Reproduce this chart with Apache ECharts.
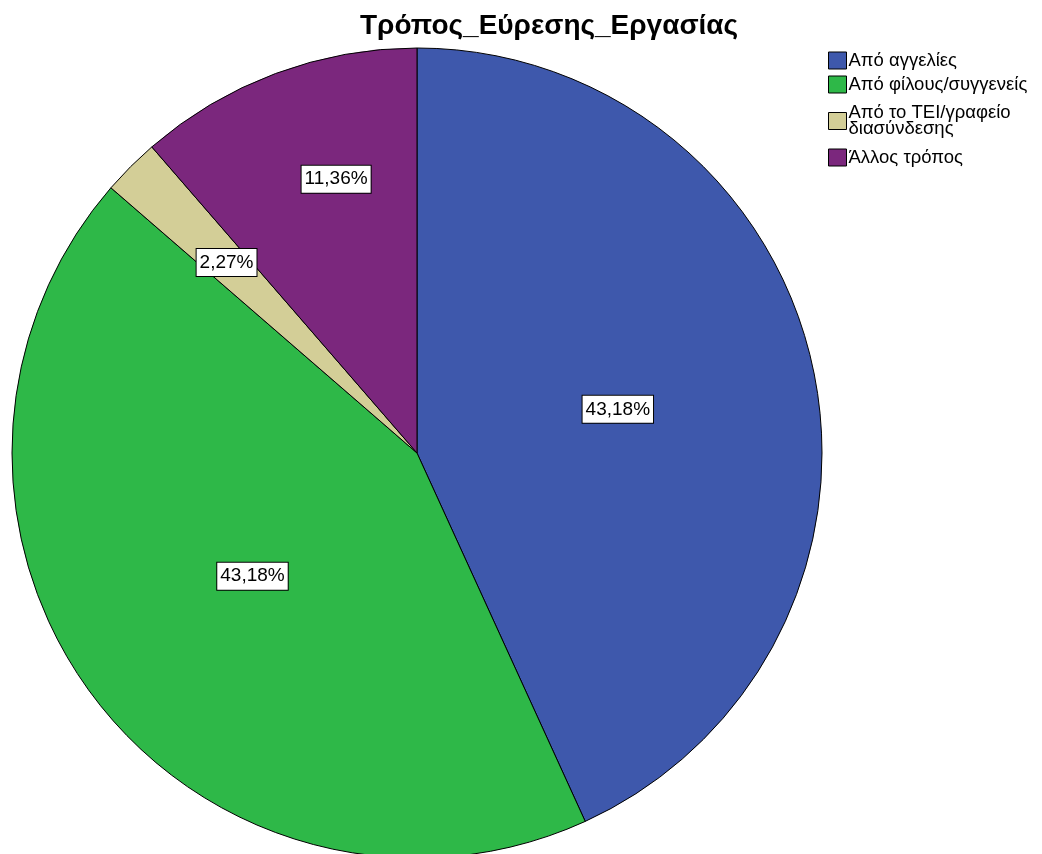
<!DOCTYPE html>
<html>
<head>
<meta charset="utf-8">
<script src="https://cdn.jsdelivr.net/npm/echarts@6/dist/echarts.min.js"></script>
<style>html,body{margin:0;padding:0;background:#fff;}#chart{width:1042px;height:854px;}</style>
</head>
<body>
<div id="chart"></div>
<script>
const titleText = 'Τρόπος_Εύρεσης_Εργασίας';
const categories = ['Από αγγελίες', 'Από φίλους/συγγενείς', 'Από το ΤΕΙ/γραφείο διασύνδεσης', 'Άλλος τρόπος'];
const legendLabels = ['Από αγγελίες', 'Από φίλους/συγγενείς', 'Από το ΤΕΙ/γραφείο\nδιασύνδεσης', 'Άλλος τρόπος'];
const counts = [19, 19, 1, 5];
const colors = ['#3E58AC', '#2EB848', '#D3CE97', '#7B277D'];

const total = counts.reduce((a, b) => a + b, 0);
const CX = 417, CY = 453, R = 405;
const FONT = 'Liberation Sans, Arial, sans-serif';

const chart = echarts.init(document.getElementById('chart'), null, {renderer: 'canvas'});
chart.setOption({
  animation: false,
  backgroundColor: '#fff',
  title: {
    text: titleText,
    left: 355, top: 7,
    textStyle: {fontFamily: FONT, fontWeight: 'bold', fontSize: 28, color: '#000'}
  },
  legend: {
    orient: 'vertical',
    left: 823, top: 46,
    itemWidth: 18, itemHeight: 17, itemGap: 5,
    icon: 'rect',
    data: categories.map((c, i) => i === 2 ? {name: c, textStyle: {padding: [-8, 0, 20, -3]}} : {name: c}),
    formatter: name => legendLabels[categories.indexOf(name)],
    textStyle: {fontFamily: FONT, fontSize: 18.5, lineHeight: 16, color: '#000', padding: [0, 0, 0, -3]},
    itemStyle: {borderColor: '#000', borderWidth: 1}
  },
  series: [{
    type: 'pie',
    center: [CX, CY],
    radius: [0, R],
    startAngle: 90,
    clockwise: true,
    avoidLabelOverlap: false,
    itemStyle: {borderColor: '#000', borderWidth: 1},
    label: {
      position: 'inside',
      formatter: p => (p.value / total * 100).toFixed(2).replace('.', ',') + '%',
      color: '#000',
      fontFamily: FONT,
      fontSize: 19,
      lineHeight: 19,
      backgroundColor: '#fff',
      borderColor: '#000',
      borderWidth: 1,
      padding: [5, 3, 3, 3]
    },
    labelLayout: function (params) {
      const share = counts[params.dataIndex] / total;
      if (share >= 0.2) return {};
      const r = params.labelRect;
      const lx = r.x + r.width / 2, ly = r.y + r.height / 2;
      const tiny = share < 0.05;
      const target = R * (tiny ? 0.665 : 0.705);
      const ang = Math.atan2(ly - CY, lx - CX) + (tiny ? 0 : 4 * Math.PI / 180);
      const tx = CX + target * Math.cos(ang), ty = CY + target * Math.sin(ang);
      return {dx: tx - lx, dy: ty - ly};
    },
    labelLine: {show: false},
    data: categories.map((c, i) => ({name: c, value: counts[i], itemStyle: {color: colors[i]}}))
  }]
});
</script>
</body>
</html>
